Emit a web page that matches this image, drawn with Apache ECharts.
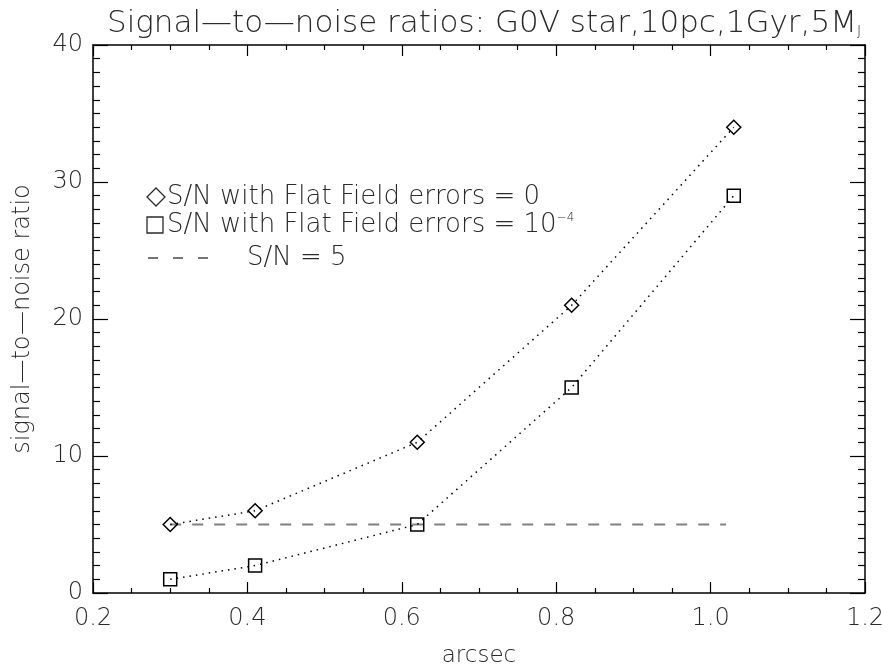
<!DOCTYPE html>
<html>
<head>
<meta charset="utf-8">
<script src="https://cdn.jsdelivr.net/npm/echarts@6/dist/echarts.min.js"></script>
<style>
  html, body { margin: 0; padding: 0; background: #fff; }
  #chart { width: 888px; height: 671px; }
</style>
</head>
<body>
<div id="chart"></div>
<script>
// Angular separation (arcsec) of the sampled points
const arcsec = [0.30, 0.41, 0.62, 0.82, 1.03];
// S/N with flat-field errors = 0
const snNoFlat = [5, 6, 11, 21, 34];
// S/N with flat-field errors = 1e-4
const snFlat = [1, 2, 5, 15, 29];
// Detection threshold line
const thresholdX = [0.30, 1.02];
const thresholdY = 5;
const xTicks = [0.2, 0.4, 0.6, 0.8, 1.0, 1.2];
const yTicks = [0, 10, 20, 30, 40];

const FONT = '"DejaVu Sans", sans-serif';
const INK = '#2a2a2a';
const chart = echarts.init(document.getElementById('chart'), null, { renderer: 'canvas' });

function xAxisCfg(showLabels, pos) {
  return {
    type: 'value', position: pos,
    min: xTicks[0], max: xTicks[xTicks.length - 1], interval: 0.2,
    name: showLabels ? 'arcsec' : '',
    nameLocation: 'middle', nameGap: 52,
    nameTextStyle: { fontFamily: FONT, fontSize: 23, fontWeight: 200, color: INK },
    axisLine: { show: true, onZero: false, lineStyle: { color: '#000', width: 1.5 } },
    axisTick: { show: true, inside: true, length: 11, lineStyle: { color: '#000', width: 1.2 } },
    minorTick: { show: true, splitNumber: 4, length: 5, lineStyle: { color: '#000', width: 1.2 } },
    axisLabel: { show: showLabels, margin: 14, fontFamily: FONT, fontSize: 24, fontWeight: 200,
      color: INK, formatter: v => v.toFixed(1) },
    splitLine: { show: false }, minorSplitLine: { show: false }
  };
}
function yAxisCfg(showLabels, pos) {
  return {
    type: 'value', position: pos,
    min: yTicks[0], max: yTicks[yTicks.length - 1], interval: 10,
    name: showLabels ? 'signal\u2014to\u2014noise ratio' : '',
    nameLocation: 'middle', nameGap: 58, nameRotate: 90,
    nameTextStyle: { fontFamily: FONT, fontSize: 24, fontWeight: 200, color: INK },
    axisLine: { show: true, onZero: false, lineStyle: { color: '#000', width: 1.5 } },
    axisTick: { show: true, inside: true, length: 15, lineStyle: { color: '#000', width: 1.2 } },
    minorTick: { show: true, splitNumber: 10, length: 7, lineStyle: { color: '#000', width: 1.2 } },
    axisLabel: { show: showLabels, margin: 10, fontFamily: FONT, fontSize: 24, fontWeight: 200, color: INK },
    splitLine: { show: false }, minorSplitLine: { show: false }
  };
}

const markerStyle = { color: 'rgba(0,0,0,0)', borderColor: '#000', borderWidth: 1.5 };
const dotted = { color: '#000', width: 1.5, type: [1.5, 5] };
const legendText = { fontFamily: FONT, fontSize: 26, fontWeight: 200, fill: INK, verticalAlign: 'middle' };

chart.setOption({
  animation: false,
  backgroundColor: '#fff',
  title: {
    text: 'Signal\u2014to\u2014noise ratios: G0V star,10pc,1Gyr,5M{sub|J}',
    left: 479, top: 3, textAlign: 'center',
    textStyle: { fontFamily: FONT, fontSize: 31, fontWeight: 200, color: INK,
      rich: { sub: { fontFamily: FONT, fontSize: 14, fontWeight: 200, color: INK, padding: [16, 0, 0, 0] } } }
  },
  grid: { left: 93, right: 23, top: 45, bottom: 78, outerBoundsMode: 'none', containLabel: false },
  xAxis: [xAxisCfg(true, 'bottom'), xAxisCfg(false, 'top')],
  yAxis: [yAxisCfg(true, 'left'), yAxisCfg(false, 'right')],
  series: [
    {
      type: 'line', name: 'S/N FF=0',
      data: arcsec.map((x, i) => [x, snNoFlat[i]]),
      symbol: 'diamond', symbolSize: 14, showAllSymbol: true,
      itemStyle: markerStyle, lineStyle: dotted, z: 3
    },
    {
      type: 'line', name: 'S/N FF=1e-4',
      data: arcsec.map((x, i) => [x, snFlat[i]]),
      symbol: 'rect', symbolSize: 13, showAllSymbol: true,
      itemStyle: markerStyle, lineStyle: dotted, z: 3
    },
    {
      type: 'line', name: 'S/N = 5',
      data: thresholdX.map(x => [x, thresholdY]),
      symbol: 'none',
      lineStyle: { color: '#808080', width: 2, type: [11, 11] }, z: 2
    }
  ],
  graphic: [
    // legend: diamond entry
    { type: 'polygon', shape: { points: [[156, 188], [165, 197], [156, 206], [147, 197]] },
      style: { fill: 'none', stroke: INK, lineWidth: 1.3 } },
    { type: 'text', x: 167, y: 197, style: Object.assign({ text: 'S/N with Flat Field errors = 0' }, legendText) },
    // legend: square entry
    { type: 'rect', shape: { x: 147, y: 217, width: 16, height: 16 },
      style: { fill: 'none', stroke: INK, lineWidth: 1.3 } },
    { type: 'text', x: 167, y: 225,
      style: Object.assign({ text: 'S/N with Flat Field errors = 10{sup|\u22124}',
        rich: { sup: { fontFamily: FONT, fontSize: 12, fontWeight: 200, fill: INK, padding: [0, 0, 14, 0] } } },
        legendText) },
    // legend: threshold entry
    { type: 'line', shape: { x1: 148, y1: 258, x2: 158, y2: 258 }, style: { stroke: INK, lineWidth: 1.3 } },
    { type: 'line', shape: { x1: 173, y1: 258, x2: 183, y2: 258 }, style: { stroke: INK, lineWidth: 1.3 } },
    { type: 'line', shape: { x1: 198, y1: 258, x2: 208, y2: 258 }, style: { stroke: INK, lineWidth: 1.3 } },
    { type: 'text', x: 247, y: 258, style: Object.assign({ text: 'S/N = 5' }, legendText) }
  ]
});
</script>
</body>
</html>
